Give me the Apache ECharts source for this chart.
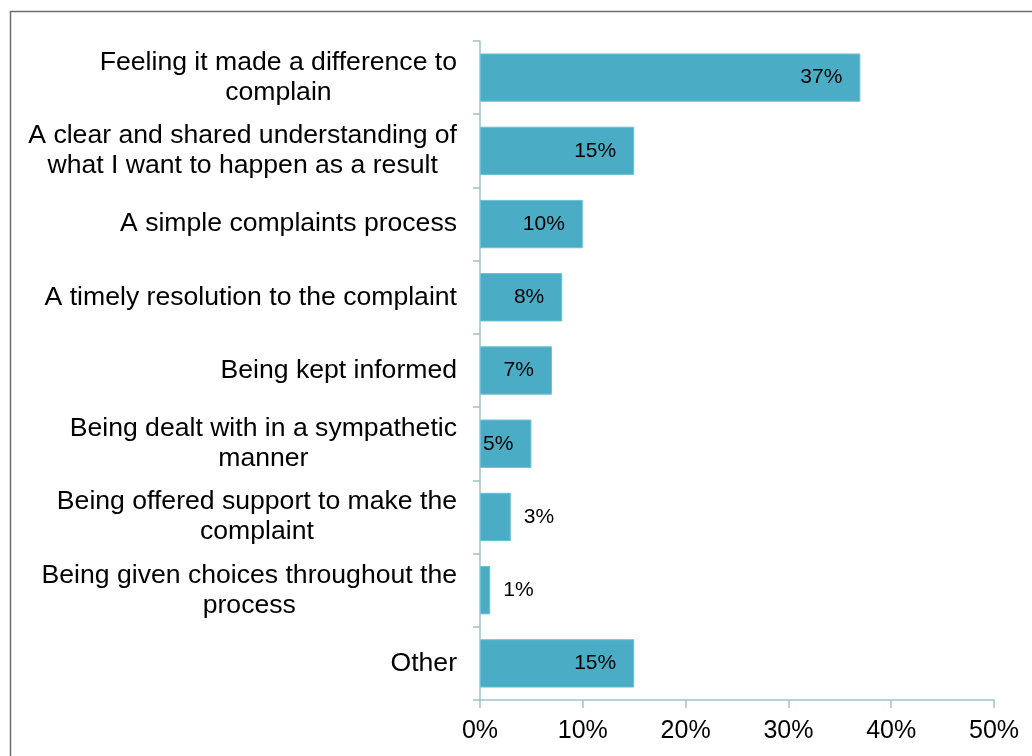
<!DOCTYPE html>
<html>
<head>
<meta charset="utf-8">
<script src="https://cdn.jsdelivr.net/npm/echarts@6/dist/echarts.min.js"></script>
<style>
  html, body { margin: 0; padding: 0; background: #ffffff; }
  #chart { width: 1032px; height: 756px; }
</style>
</head>
<body>
<div id="chart"></div>
<script>
// What matters most when making a complaint (share of respondents)
const categories = [
  'Feeling it made a difference to\ncomplain',
  'A clear and shared understanding of\nwhat I want to happen as a result',
  'A simple complaints process',
  'A timely resolution to the complaint',
  'Being kept informed',
  'Being dealt with in a sympathetic\nmanner',
  'Being offered support to make the\ncomplaint',
  'Being given choices throughout the\nprocess',
  'Other'
];
const shares = [37, 15, 10, 8, 7, 5, 3, 1, 15];
const xTicks = { min: 0, max: 50, step: 10 };

const FONT = '"Liberation Sans", Arial, sans-serif';
const AXIS_COLOR = '#9fc4c9';
const BAR_COLOR = '#4bacc6';
const CAT_FONT_SIZE = 26.6;

// Short bars carry their label just outside the bar end
const seriesData = shares.map(v => ({
  value: v,
  label: v < 4
    ? { position: 'right', distance: 13 }
    : { position: 'insideRight', distance: 18 }
}));

const chart = echarts.init(document.getElementById('chart'), null, { renderer: 'canvas' });

chart.setOption({
  backgroundColor: '#ffffff',
  animation: false,
  graphic: [{
    type: 'rect',
    shape: { x: 10.5, y: 11.5, width: 1200, height: 1000 },
    style: { fill: 'none', stroke: '#6e6e6e', lineWidth: 1.5 },
    silent: true
  }],
  grid: { left: 480, right: 38, top: 41, bottom: 56, containLabel: false },
  xAxis: {
    type: 'value',
    min: xTicks.min,
    max: xTicks.max,
    interval: xTicks.step,
    axisLine: { show: true, lineStyle: { color: AXIS_COLOR, width: 1.5 } },
    axisTick: { show: true, length: 8, lineStyle: { color: AXIS_COLOR, width: 1.5 } },
    splitLine: { show: false },
    axisLabel: {
      formatter: '{value}%',
      fontFamily: FONT,
      fontSize: 25,
      color: '#000000',
      margin: 19
    }
  },
  yAxis: {
    type: 'category',
    data: categories,
    inverse: true,
    axisLine: { show: true, lineStyle: { color: AXIS_COLOR, width: 1.5 } },
    axisTick: { show: true, alignWithLabel: false, length: 7, lineStyle: { color: AXIS_COLOR, width: 1.5 } },
    splitLine: { show: false },
    axisLabel: {
      margin: 23,
      interval: 0,
      color: '#000000',
      fontFamily: FONT,
      fontSize: CAT_FONT_SIZE,
      lineHeight: 30,
      formatter: function (value) {
        return value.split('\n').map(line => '{c|' + line + '}').join('\n');
      },
      rich: {
        c: {
          align: 'center',
          fontFamily: FONT,
          fontSize: CAT_FONT_SIZE,
          lineHeight: 30,
          color: '#000000'
        }
      }
    }
  },
  series: [{
    type: 'bar',
    data: seriesData,
    barCategoryGap: '34%',
    itemStyle: { color: BAR_COLOR, borderColor: '#6cc0d4', borderWidth: 1 },
    label: {
      show: true,
      formatter: '{c}%',
      fontFamily: FONT,
      fontSize: 21,
      color: '#000000'
    }
  }]
});
</script>
</body>
</html>
